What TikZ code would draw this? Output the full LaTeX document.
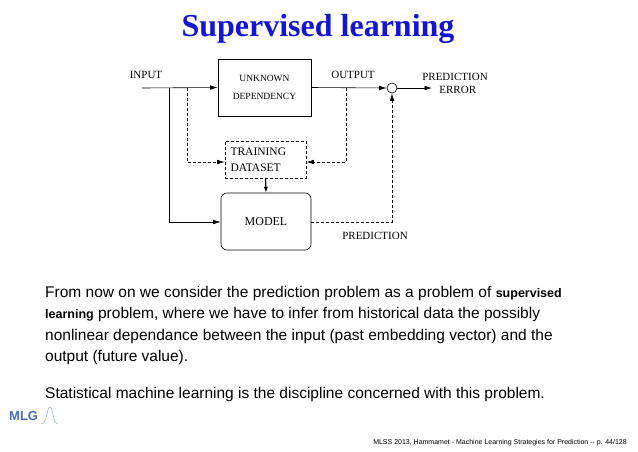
\documentclass[tikz,border=0pt]{standalone}
\usepackage{fontspec}
\setmainfont{Liberation Serif}
\newfontfamily\arialf{Liberation Sans}
\usetikzlibrary{arrows.meta}
\definecolor{titleblue}{RGB}{20,20,210}
\definecolor{logoblue}{RGB}{70,110,190}
\begin{document}
\begin{tikzpicture}[x=1pt,y=-1pt,
  lab/.style={font=\fontsize{11}{13}\selectfont,inner sep=0},
  ln/.style={line width=0.6pt,-{Latex[length=7.5pt,width=4.5pt]}},
  dl/.style={ln,dashed,dash pattern=on 3pt off 2pt},
  para/.style={font=\arialf\fontsize{15.5}{17}\selectfont,anchor=west,inner sep=0}]
\useasboundingbox (0,0) rectangle (638,451);
\node[font=\bfseries\fontsize{32}{36}\selectfont,text=titleblue] (title) at (318,29) {Supervised learning};
% boxes
\node[draw,line width=0.6pt,minimum width=93pt,minimum height=57pt,align=center,font=\fontsize{9.5}{18}\selectfont] (unk) at (264.5,87.5) {UNKNOWN\\DEPENDENCY};
\node[draw,dashed,dash pattern=on 3pt off 2pt,line width=0.6pt,minimum width=81pt,minimum height=37pt,text width=70pt,align=left,font=\fontsize{11.5}{16}\selectfont] (train) at (265.5,159.5) {TRAINING\\DATASET};
\node[draw,rounded corners=6pt,line width=0.6pt,minimum width=90pt,minimum height=57pt,font=\fontsize{12}{14}\selectfont] (model) at (266,221.5) {MODEL};
\node[draw,circle,line width=0.6pt,minimum size=10pt,inner sep=0] (circ) at (392,88) {};
% labels
\node[lab] (inp) at (146,75) {INPUT};
\node[lab] (outp) at (353,75) {OUTPUT};
\node[lab,align=center] (perr) at (455,83) {PREDICTION\\\ \ ERROR};
\node[lab] (pred) at (375,236) {PREDICTION};
% coordinates
\coordinate (i0) at (142,88);
\coordinate (sA) at (169,88);
\coordinate (sB) at (169,222);
\coordinate (dA) at (187,88);
\coordinate (dB) at (187,162);
\coordinate (oA) at (346,88);
\coordinate (oB) at (346,162);
\coordinate (pe) at (432,88);
\coordinate (pB) at (392,222);
% connectors
\draw[ln] (i0) -- (unk.west);
\draw[line width=0.6pt] (sA) -- (sB);
\draw[ln] (sB) -- (sB -| model.west);
\draw[dl] (dA) -- (dB) -- (dB -| train.west);
\draw[ln] (unk.east) -- (circ.west);
\draw[dl] (oA) -- (oB) -- (oB -| train.east);
\draw[ln] (circ.east) -- (pe);
\draw[line width=1.2pt,-{Latex[length=6pt,width=4.5pt]}] (train.south) -- (model.north);
\draw[dl] (pB -| model.east) -- (pB) -- (circ.south);
% text
\node[para] (p1) at (45,293) {From now on we consider the prediction problem as a problem of {\bfseries\fontsize{12.5}{14}\selectfont supervised}};
\node[para] (p2) at (45,314.5) {{\bfseries\fontsize{12.5}{14}\selectfont learning} problem, where we have to infer from historical data the possibly};
\node[para] (p3) at (45,336) {nonlinear dependance between the input (past embedding vector) and the};
\node[para] (p4) at (45,357.5) {output (future value).};
\node[para] (p5) at (45,394) {Statistical machine learning is the discipline concerned with this problem.};
% logo
\node[font=\arialf\bfseries\fontsize{13}{13}\selectfont,text=logoblue,anchor=west,inner sep=0] (logo) at (9,416) {MLG};
\draw[logoblue!60,line width=0.5pt] (41,424) .. controls (47,424) and (47,407) .. (50,407) .. controls (53,407) and (53,424) .. (58,424);
\node[font=\arialf\fontsize{7}{8}\selectfont,anchor=east,inner sep=0] (foot) at (627,443) {MLSS 2013, Hammamet - Machine Learning Strategies for Prediction -- p. 44/128};
\end{tikzpicture}
\end{document}
